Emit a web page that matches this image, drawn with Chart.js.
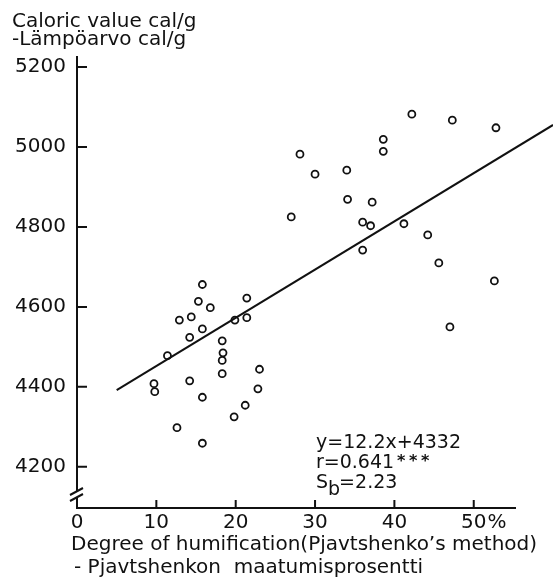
<!DOCTYPE html>
<html>
<head>
<meta charset="utf-8">
<script src="https://cdn.jsdelivr.net/npm/chart.js@4/dist/chart.umd.min.js"></script>
<style>
  body { margin: 0; background: #fff; }
  canvas { display: block; }
</style>
</head>
<body>
<canvas id="chart" width="553" height="579"></canvas>
<script>
// Degree of humification (%) and caloric value (cal/g)
var humification = [28.1, 27.0, 42.2, 47.3, 52.8, 38.6, 38.6, 30.0, 34.0, 34.1, 37.2, 36.0, 37.0, 41.2, 44.2,
  36.0, 45.6, 52.6, 47.0, 15.8, 15.3, 16.8, 21.4, 12.9, 14.4, 15.8, 19.9, 21.4, 14.2, 11.4, 18.3, 18.4,
  18.3, 18.3, 23.0, 9.7, 9.8, 14.2, 22.8, 15.8, 21.2, 19.8, 12.6, 15.8];
var caloric = [4982, 4825, 5082, 5067, 5048, 5019, 4989, 4932, 4942, 4869, 4862, 4812, 4803, 4808, 4780,
  4742, 4710, 4665, 4550, 4656, 4614, 4598, 4622, 4567, 4575, 4545, 4567, 4573, 4524, 4478, 4515, 4485,
  4466, 4433, 4444, 4408, 4388, 4415, 4395, 4374, 4354, 4325, 4298, 4259];

// regression line end points
var lineX = [5, 60];
var lineY = [4392, 5055];

var xTicks = [0, 10, 20, 30, 40, 50];
var yTicks = [4200, 4400, 4600, 4800, 5000, 5200];

var FONT = 'DejaVu Sans';
var INK = '#111';

var points = humification.map(function (x, i) { return { x: x, y: caloric[i] }; });
var linePts = lineX.map(function (x, i) { return { x: x, y: lineY[i] }; });

// inward ticks, axis break, texts
var decor = {
  id: 'decor',
  afterDraw: function (chart) {
    var ctx = chart.ctx;
    var xs = chart.scales.x, ys = chart.scales.y;
    var a = chart.chartArea;
    ctx.save();
    ctx.strokeStyle = INK;
    ctx.lineWidth = 2;
    ctx.beginPath();
    yTicks.forEach(function (v) {
      var py = ys.getPixelForValue(v);
      ctx.moveTo(a.left, py);
      ctx.lineTo(a.left + 10, py);
    });
    xTicks.forEach(function (v) {
      if (v === 0) return;
      var px = xs.getPixelForValue(v);
      ctx.moveTo(px, a.bottom);
      ctx.lineTo(px, a.bottom - 8);
    });
    ctx.stroke();

    // axis break
    ctx.fillStyle = '#fff';
    ctx.fillRect(a.left - 3, 491, 6, 6);
    ctx.beginPath();
    ctx.moveTo(70, 495); ctx.lineTo(83, 488);
    ctx.moveTo(70, 501); ctx.lineTo(83, 494);
    ctx.stroke();

    ctx.fillStyle = INK;
    ctx.textBaseline = 'alphabetic';
    ctx.textAlign = 'left';

    // percent sign after the 50 label
    ctx.font = '20px ' + FONT;
    var p50 = xs.getPixelForValue(50);
    ctx.fillText('%', p50 + ctx.measureText('50').width / 2 + 1, 528);

    ctx.fillText('Caloric value cal/g', 12, 27);
    ctx.fillText('-Lämpöarvo cal/g', 12, 45);

    ctx.fillText('Degree of humification(Pjavtshenko\u2019s method)', 71, 550);
    ctx.fillText('- Pjavtshenkon  maatumisprosentti', 74, 573);

    ctx.font = '19px ' + FONT;
    ctx.fillText('y=12.2x+4332', 316, 448);
    ctx.fillText('r=0.641', 316, 468);
    var rw = ctx.measureText('r=0.641').width;
    ctx.font = 'bold 16px ' + FONT;
    for (var k = 0; k < 3; k++) {
      ctx.fillText('*', 316 + rw + 3 + k * 12, 466);
    }
    ctx.font = '19px ' + FONT;
    ctx.fillText('S', 316, 488);
    var sw = ctx.measureText('S').width;
    ctx.fillText('b', 316 + sw, 495);
    var bw = ctx.measureText('b').width;
    ctx.fillText('=2.23', 316 + sw + bw - 1, 488);
    ctx.restore();
  }
};

var ctx = document.getElementById('chart').getContext('2d');

var myChart = new Chart(ctx, {
  type: 'scatter',
  data: {
    datasets: [{
      type: 'line',
      data: linePts,
      borderColor: INK,
      borderWidth: 2,
      pointRadius: 0,
      fill: false,
      clip: false
    },
    {
      data: points,
      pointStyle: 'circle',
      pointRadius: 3.5,
      pointBorderWidth: 1.8,
      pointBorderColor: INK,
      pointBackgroundColor: '#fff'
    }]
  },
  options: {
    responsive: false,
    devicePixelRatio: 1,
    animation: false,
    layout: {
      padding: { top: 57, right: 38, left: 0, bottom: 0 }
    },
    plugins: {
      legend: { display: false },
      tooltip: { enabled: false }
    },
    scales: {
      x: {
        type: 'linear',
        min: 0,
        max: 55.2,
        afterBuildTicks: function (scale) {
          scale.ticks = xTicks.map(function (v) { return { value: v }; });
        },
        afterFit: function (scale) { scale.height = 71; },
        grid: { display: true, drawOnChartArea: false, drawTicks: false },
        border: { display: true, color: INK, width: 2 },
        ticks: {
          color: INK,
          padding: 3,
          maxRotation: 0,
          font: { family: FONT, size: 20 },
          callback: function (v) { return String(v); }
        }
      },
      y: {
        type: 'linear',
        min: 4097,
        max: 5225,
        afterBuildTicks: function (scale) {
          scale.ticks = yTicks.map(function (v) { return { value: v }; });
        },
        afterFit: function (scale) { scale.width = 77; },
        grid: { display: true, drawOnChartArea: false, drawTicks: false },
        border: { display: true, color: INK, width: 2 },
        ticks: {
          color: INK,
          padding: 11,
          font: { family: FONT, size: 20 },
          callback: function (v) { return String(v); }
        }
      }
    }
  },
  plugins: [decor]
});
</script>
</body>
</html>
